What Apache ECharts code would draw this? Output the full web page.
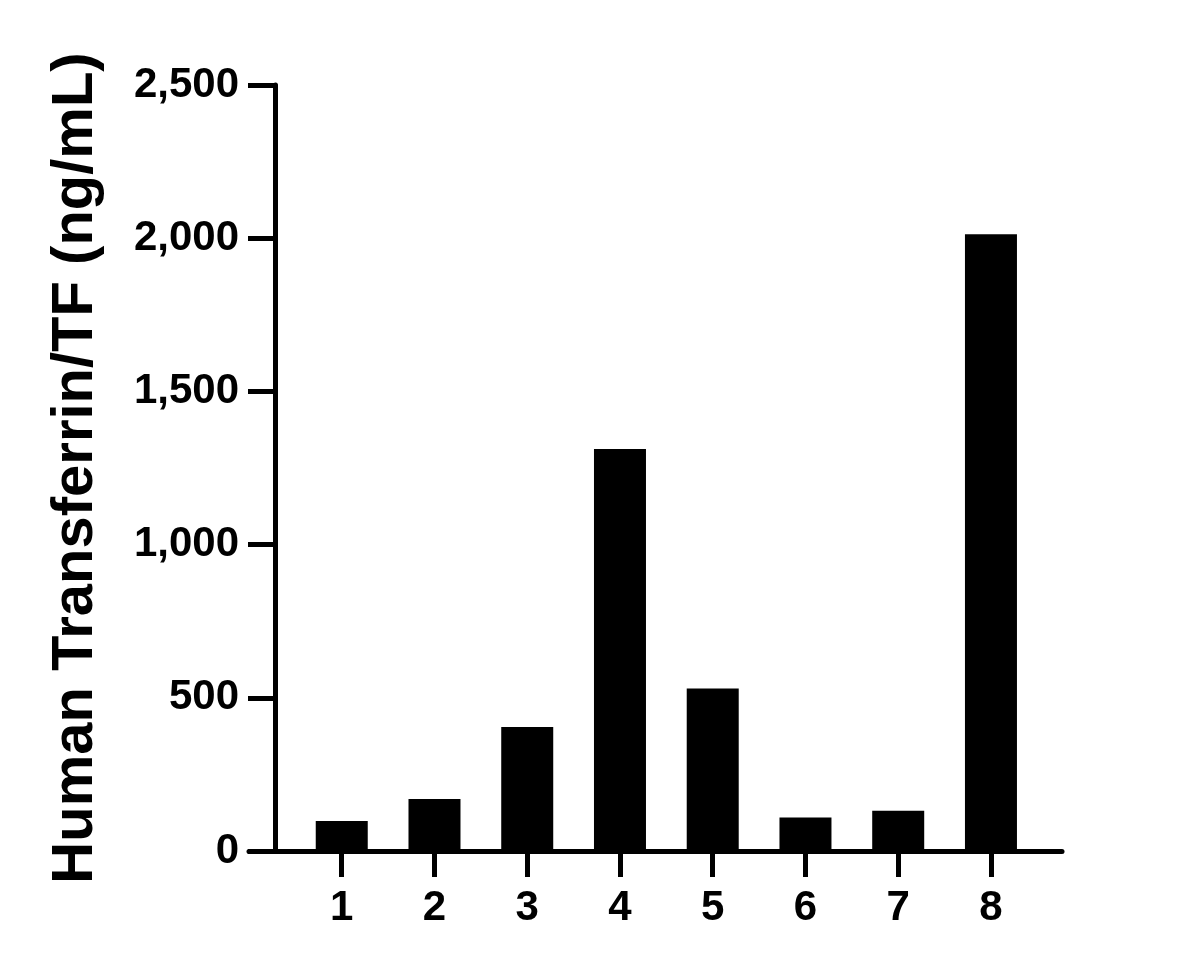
<!DOCTYPE html>
<html>
<head>
<meta charset="utf-8">
<script src="https://cdn.jsdelivr.net/npm/echarts@6/dist/echarts.min.js"></script>
<style>
html,body{margin:0;padding:0;background:#fff;}
#chart{width:1193px;height:969px;}
</style>
</head>
<body>
<div id="chart"></div>
<script>
const categories = [1, 2, 3, 4, 5, 6, 7, 8];
const values = [98, 170, 405, 1312, 530, 109, 131, 2013];
const yTicks = [0, 500, 1000, 1500, 2000, 2500];
const yTitle = 'Human Transferrin/TF (ng/mL)';

const FONT = '"Liberation Sans", Arial, sans-serif';
const chart = echarts.init(document.getElementById('chart'));
chart.setOption({
  animation: false,
  backgroundColor: '#ffffff',
  grid: { left: 249, right: 131, top: 85, bottom: 118, containLabel: false },
  xAxis: {
    type: 'value',
    min: 0,
    max: 8.766,
    splitLine: { show: false },
    axisLine: { show: true, onZero: false, lineStyle: { color: '#000', width: 5 } },
    axisTick: { show: true, customValues: categories, length: 26, lineStyle: { color: '#000', width: 5 } },
    axisLabel: {
      show: true, customValues: categories, margin: 36,
      color: '#000', fontSize: 42, fontWeight: 'bold', fontFamily: FONT
    }
  },
  yAxis: {
    type: 'value',
    min: yTicks[0],
    max: yTicks[yTicks.length - 1],
    interval: 500,
    offset: -26,
    splitLine: { show: false },
    axisLine: { show: true, onZero: false, lineStyle: { color: '#000', width: 5 } },
    axisTick: { show: true, length: 27, lineStyle: { color: '#000', width: 5 } },
    axisLabel: {
      margin: 36, color: '#000', fontSize: 42, fontWeight: 'bold', fontFamily: FONT,
      formatter: v => v.toLocaleString('en-US')
    },
    name: yTitle,
    nameLocation: 'middle',
    nameGap: 170,
    nameTextStyle: { color: '#000', fontSize: 58, fontWeight: 'bold', fontFamily: FONT }
  },
  series: [{
    type: 'bar',
    barWidth: 52,
    itemStyle: { color: '#000' },
    data: categories.map((c, i) => [c, values[i]])
  }]
});
</script>
</body>
</html>
